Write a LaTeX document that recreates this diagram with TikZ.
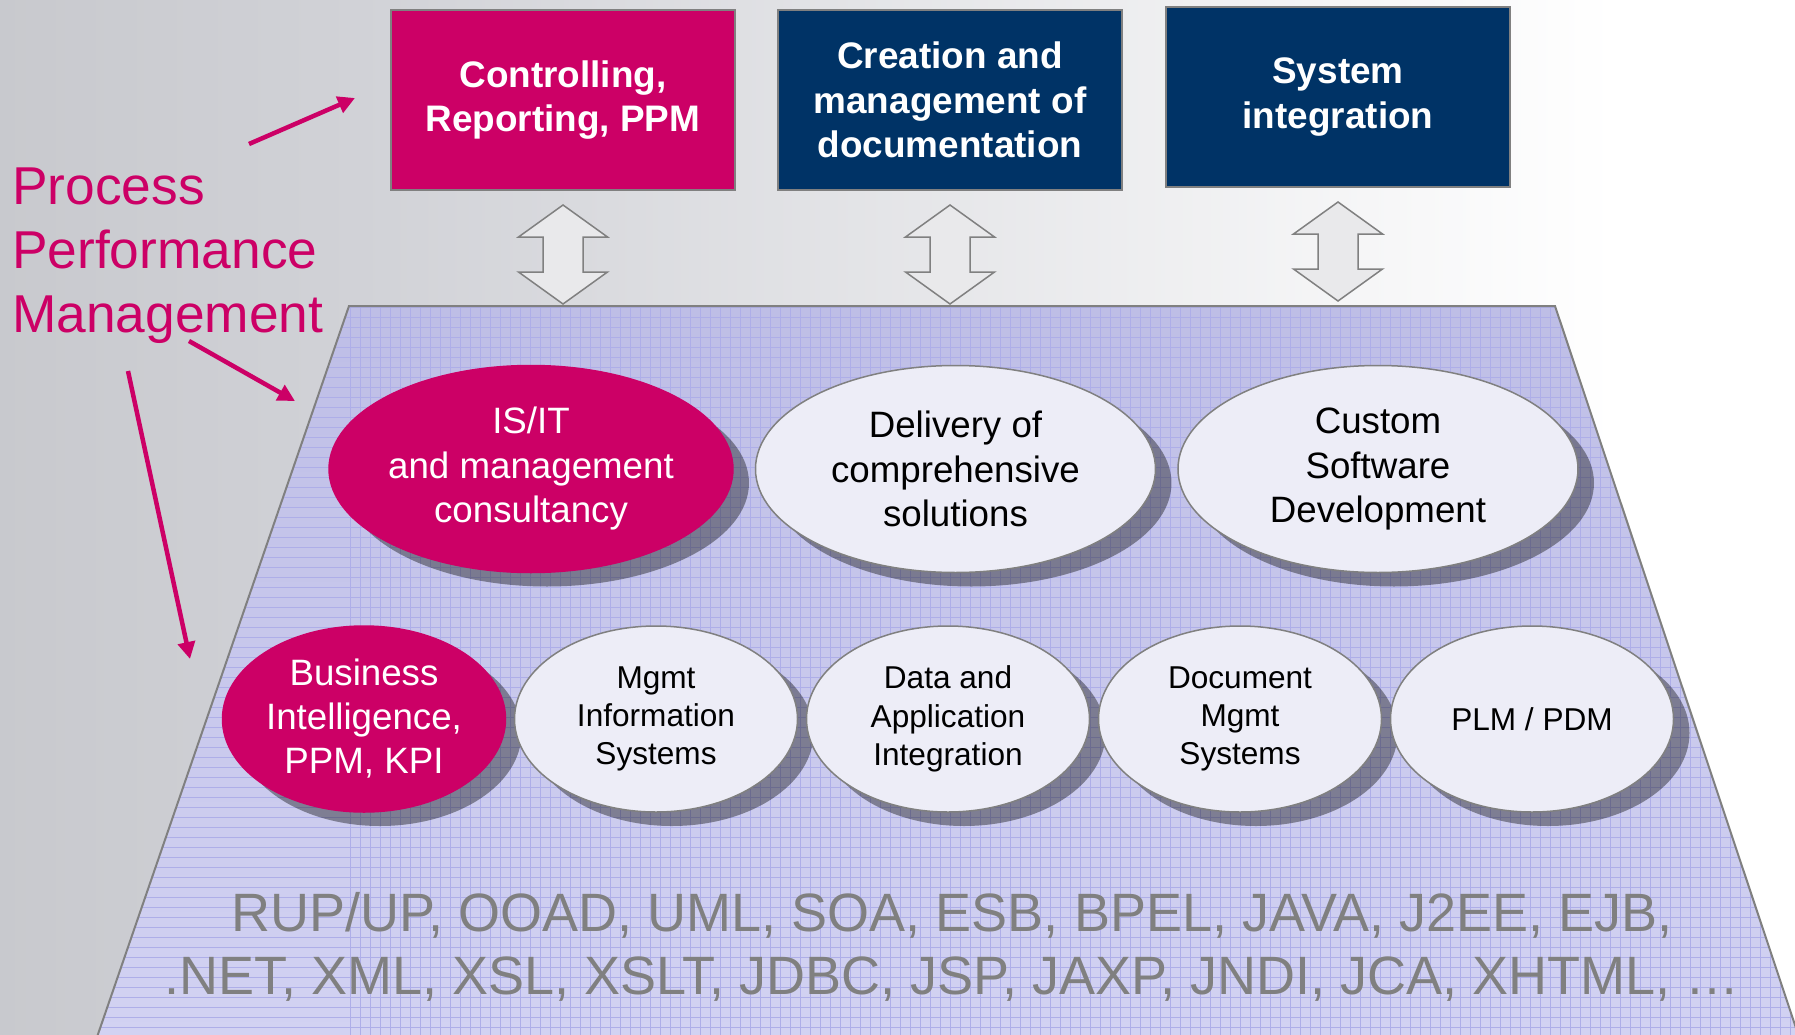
\documentclass[tikz,border=0pt]{standalone}
\usepackage{fontspec}
\setmainfont{Liberation Sans}
\usetikzlibrary{positioning,shapes.geometric,shadows,arrows.meta}

\definecolor{tmag}{RGB}{204,0,102}
\definecolor{tnavy}{RGB}{0,51,102}
\definecolor{frame}{RGB}{128,128,128}
\definecolor{bgleft}{RGB}{178,179,183}
\definecolor{bgmid}{RGB}{209,210,215}
\definecolor{platetop}{RGB}{190,190,230}
\definecolor{platebot}{RGB}{210,210,242}
\definecolor{gridline}{RGB}{174,174,232}
\definecolor{bubble}{RGB}{237,237,247}
\definecolor{arrowfill}{RGB}{233,233,235}
\definecolor{techgray}{RGB}{128,128,128}
\pgfdeclarehorizontalshading{bgfade}{100bp}{color(0bp)=(bgleft); color(35bp)=(bgmid); color(70bp)=(white); color(100bp)=(white)}

\tikzset{
  topbox/.style={draw=frame, line width=2pt, text=white, font=\fontsize{36.9}{44.6}\selectfont\bfseries,
    align=center, minimum width=344pt, minimum height=180pt, inner sep=0pt},
  bigbubble/.style={ellipse, draw=frame, line width=1.5pt, fill=bubble, align=center,
    minimum width=400pt, minimum height=207pt, inner sep=0pt, font=\fontsize{36.7}{44.5}\selectfont,
    drop shadow={shadow xshift=16pt, shadow yshift=-14pt, fill=black, opacity=0.38}},
  smallbubble/.style={bigbubble, minimum width=283pt, minimum height=186pt, font=\fontsize{31.6}{38.3}\selectfont},
  hot/.style={fill=tmag, draw=tmag, text=white},
  pinkarrow/.style={tmag, line width=4.5pt, -{Triangle[length=17pt,width=17pt]}},
  twoway/.pic={
    \draw[frame, line width=1.5pt, fill=arrowfill] (0,0) -- (44.5,32) -- (20,32) -- (20,67) -- (44.5,67)
      -- (0,99) -- (-44.5,67) -- (-20,67) -- (-20,32) -- (-44.5,32) -- cycle;
  }
}

\begin{document}
\begin{tikzpicture}[x=1pt,y=-1pt]
\useasboundingbox (0,0) rectangle (1795,1035);
\shade[shading=bgfade] (0,0) rectangle (1795,1035);

\begin{scope}
\clip (0,0) rectangle (1795,1035);
\shade[top color=platetop, bottom color=platebot] (349,306) -- (1555,306) -- (1800,1040) -- (96,1040) -- cycle;
\begin{scope}
\clip (349,306) -- (1555,306) -- (1800,1040) -- (96,1040) -- cycle;
\foreach \gx in {350,360,...,1800}
  \draw[gridline, line width=0.6pt] (\gx,306) -- (\gx,1040);
\foreach \gy in {307,317,...,1040}
  \draw[gridline, line width=0.6pt] (90,\gy) -- (1800,\gy);
\end{scope}
\draw[frame, line width=2pt] (96,1040) -- (349,306) -- (1555,306) -- (1800,1040);
\end{scope}

\node[topbox, fill=tmag] (ctrl) at (563,100) {Controlling,\\Reporting, PPM};
\node[topbox, fill=tnavy, right=41pt of ctrl] (docu) {Creation and\\management of\\documentation};
\node[topbox, fill=tnavy, right=42pt of docu, yshift=3pt] (sysint) {System\\integration};

\foreach \b in {ctrl,docu,sysint}
  \path (\b.south) ++(0,14) pic {twoway};

\node[bigbubble, hot] (isit) at (531,469) {IS/IT\\and management\\consultancy};
\node[bigbubble, right=21pt of isit] (delivery) {Delivery of\\comprehensive\\solutions};
\node[bigbubble, right=21pt of delivery] (custom) {Custom\\Software\\Development};

\node[smallbubble, hot, font=\fontsize{36.7}{44}\selectfont] (bi) at (364,719) {Business\\Intelligence,\\PPM, KPI};
\node[smallbubble, right=7.5pt of bi] (mis) {Mgmt\\Information\\Systems};
\node[smallbubble, right=7.5pt of mis] (dai) {Data and\\Application\\Integration};
\node[smallbubble, right=7.5pt of dai] (dms) {Document\\Mgmt\\Systems};
\node[smallbubble, right=7.5pt of dms] (plm) {PLM / PDM};

\node[font=\fontsize{54}{63}\selectfont, text=techgray, align=center] (tech) at (952,947)
  {RUP/UP, OOAD, UML, SOA, ESB, BPEL, JAVA, J2EE, EJB,\\.NET, XML, XSL, XSLT, JDBC, JSP, JAXP, JNDI, JCA, XHTML, …};

\node[font=\fontsize{53.3}{64}\selectfont, text=tmag, align=left, anchor=north west, inner sep=0pt] (ppm) at (12,168)
  {Process\\Performance\\Management};

\coordinate (ppmtop) at (249,144);
\coordinate (ppmmid) at (189,341);
\coordinate (ppmlow) at (128,371);
\coordinate (ctrltip) at (355,98);
\coordinate (platetip) at (295,401);
\coordinate (bitip) at (190,659);
\draw[pinkarrow] (ppmtop) -- (ctrltip);
\draw[pinkarrow] (ppmmid) -- (platetip);
\draw[pinkarrow] (ppmlow) -- (bitip);
\end{tikzpicture}
\end{document}
